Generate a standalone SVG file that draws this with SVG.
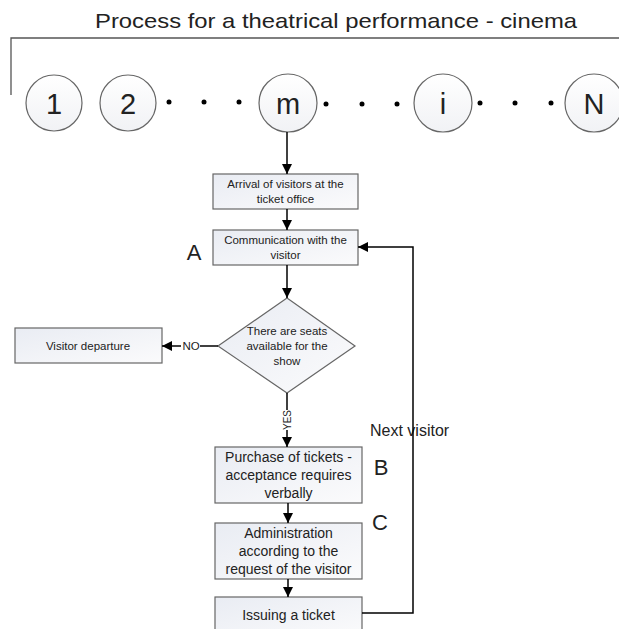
<svg xmlns="http://www.w3.org/2000/svg" width="619" height="629" viewBox="0 0 619 629">
<defs>
<linearGradient id="bg" x1="0" y1="0" x2="1" y2="1">
<stop offset="0" stop-color="#e9ecf3"/>
<stop offset="1" stop-color="#fbfbfc"/>
</linearGradient>
<linearGradient id="cg" x1="0" y1="0" x2="0" y2="1">
<stop offset="0" stop-color="#ffffff"/>
<stop offset="1" stop-color="#f1f2f5"/>
</linearGradient>
<marker id="ah" viewBox="0 0 10 10" refX="10" refY="5" markerWidth="10" markerHeight="10" markerUnits="userSpaceOnUse" orient="auto">
<path d="M0,0 L10,5 L0,10 Z" fill="#000"/>
</marker>
<style>
.box{fill:url(#bg);stroke:#666;stroke-width:1.2}
.cir{fill:url(#cg);stroke:#666;stroke-width:1.2}
.t{font-family:"Liberation Sans",Arial,sans-serif;fill:#222;text-anchor:middle}
.s{font-size:11.5px}
.m{font-size:14px}
.big{font-size:22px}
.cn{font-size:29px}
.ln{fill:none;stroke:#000;stroke-width:1.5}
.gl{fill:none;stroke:#555;stroke-width:1.3}
.dot{fill:#000}
</style>
</defs>
<rect width="619" height="629" fill="#fff"/>
<text class="t" x="336" y="28" font-size="21" textLength="482" lengthAdjust="spacingAndGlyphs">Process for a theatrical performance - cinema</text>
<path class="gl" d="M11,95 V38 H619"/>

<g id="n1"><circle class="cir" cx="54" cy="103" r="28"/><text class="t cn" x="54" y="114">1</text></g>
<g id="n2"><circle class="cir" cx="128" cy="103" r="28"/><text class="t cn" x="128" y="114">2</text></g>
<g id="nm"><circle class="cir" cx="288" cy="103" r="29"/><text class="t cn" x="288" y="114">m</text></g>
<g id="ni"><circle class="cir" cx="443" cy="103" r="29"/><text class="t cn" x="443" y="114">i</text></g>
<g id="nN"><circle class="cir" cx="594" cy="103" r="29"/><text class="t cn" x="594" y="114">N</text></g>
<g id="dots">
<circle class="dot" cx="169" cy="102" r="2.5"/><circle class="dot" cx="204" cy="102" r="2.5"/><circle class="dot" cx="239" cy="102" r="2.5"/>
<circle class="dot" cx="326" cy="104" r="2.5"/><circle class="dot" cx="362" cy="104" r="2.5"/><circle class="dot" cx="397" cy="104" r="2.5"/>
<circle class="dot" cx="480" cy="103" r="2.5"/><circle class="dot" cx="515" cy="103" r="2.5"/><circle class="dot" cx="551" cy="103" r="2.5"/>
</g>

<g id="arrival"><rect class="box" x="213" y="174" width="145" height="35"/>
<text class="t s" x="285.5" y="188">Arrival of visitors at the</text>
<text class="t s" x="285.5" y="203">ticket office</text></g>

<g id="comm"><rect class="box" x="213" y="230" width="145" height="35"/>
<text class="t s" x="285.5" y="244">Communication with the</text>
<text class="t s" x="285.5" y="259">visitor</text></g>

<g id="decision"><polygon class="box" points="287,298 355,346 287,393 218,346"/>
<text class="t s" x="287" y="335">There are seats</text>
<text class="t s" x="287" y="350">available for the</text>
<text class="t s" x="287" y="365">show</text></g>

<g id="departure"><rect class="box" x="15" y="328" width="147" height="35"/>
<text class="t s" x="88" y="350">Visitor departure</text></g>

<g id="purchase"><rect class="box" x="215" y="447" width="147" height="56"/>
<text class="t m" x="288.5" y="462">Purchase of tickets -</text>
<text class="t m" x="288.5" y="480">acceptance requires</text>
<text class="t m" x="288.5" y="498">verbally</text></g>

<g id="admin"><rect class="box" x="215" y="523" width="147" height="56"/>
<text class="t m" x="288.5" y="538">Administration</text>
<text class="t m" x="288.5" y="556">according to the</text>
<text class="t m" x="288.5" y="574">request of the visitor</text></g>

<g id="issue"><rect class="box" x="215" y="597" width="147" height="40"/>
<text class="t m" x="288.5" y="620">Issuing a ticket</text></g>

<g id="labels">
<text class="t big" x="194" y="260">A</text>
<text class="t big" x="381" y="475">B</text>
<text class="t big" x="380" y="530">C</text>
<text class="t" x="370" y="436" font-size="16" style="text-anchor:start">Next visitor</text>
</g>

<g id="connectors">
<path class="ln" d="M287,132 V174" marker-end="url(#ah)"/>
<path class="ln" d="M287,209 V230" marker-end="url(#ah)"/>
<path class="ln" d="M287,265 V298" marker-end="url(#ah)"/>
<path class="ln" d="M218,346 H200"/>
<text class="t s" x="191" y="350">NO</text>
<path class="ln" d="M181,346 H162" marker-end="url(#ah)"/>
<path class="ln" d="M287,393 V410"/>
<text class="t" font-size="10" transform="translate(291,420) rotate(-90)">YES</text>
<path class="ln" d="M287,430 V447" marker-end="url(#ah)"/>
<path class="ln" d="M288,503 V523" marker-end="url(#ah)"/>
<path class="ln" d="M288,579 V597" marker-end="url(#ah)"/>
<path class="ln" d="M362,613 H413 V247 H358" stroke-width="1.3" marker-end="url(#ah)"/>
</g>
</svg>
